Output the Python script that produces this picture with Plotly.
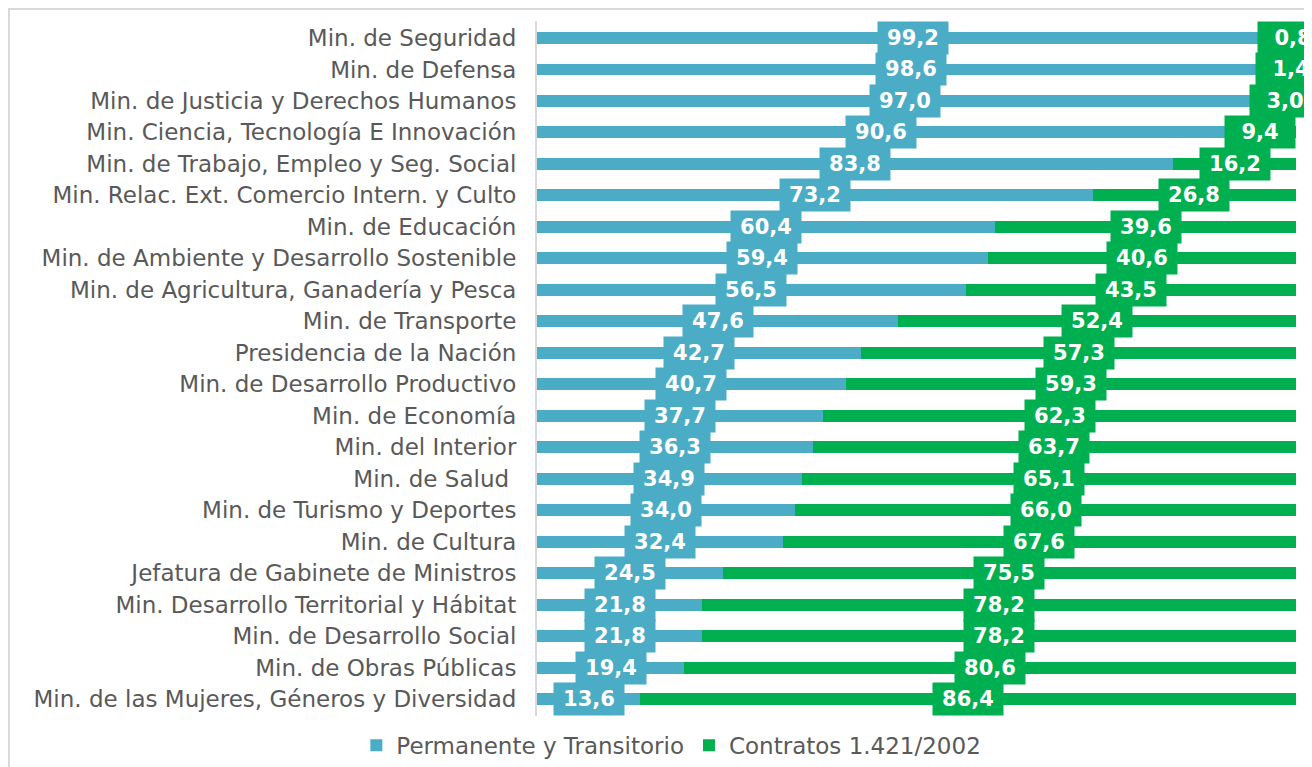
import plotly.graph_objects as go

categories = [
    "Min. de Seguridad",
    "Min. de Defensa",
    "Min. de Justicia y Derechos Humanos",
    "Min. Ciencia, Tecnología E Innovación",
    "Min. de Trabajo, Empleo y Seg. Social",
    "Min. Relac. Ext. Comercio Intern. y Culto",
    "Min. de Educación",
    "Min. de Ambiente y Desarrollo Sostenible",
    "Min. de Agricultura, Ganadería y Pesca",
    "Min. de Transporte",
    "Presidencia de la Nación",
    "Min. de Desarrollo Productivo",
    "Min. de Economía",
    "Min. del Interior",
    "Min. de Salud ",
    "Min. de Turismo y Deportes",
    "Min. de Cultura",
    "Jefatura de Gabinete de Ministros",
    "Min. Desarrollo Territorial y Hábitat",
    "Min. de Desarrollo Social",
    "Min. de Obras Públicas",
    "Min. de las Mujeres, Géneros y Diversidad",
]
permanente = [99.2, 98.6, 97.0, 90.6, 83.8, 73.2, 60.4, 59.4, 56.5, 47.6, 42.7,
              40.7, 37.7, 36.3, 34.9, 34.0, 32.4, 24.5, 21.8, 21.8, 19.4, 13.6]
contratos = [0.8, 1.4, 3.0, 9.4, 16.2, 26.8, 39.6, 40.6, 43.5, 52.4, 57.3,
             59.3, 62.3, 63.7, 65.1, 66.0, 67.6, 75.5, 78.2, 78.2, 80.6, 86.4]
series_names = ["Permanente y Transitorio", "Contratos 1.421/2002"]

BLUE = "#4BACC6"
GREEN = "#00B050"
FONT = "DejaVu Sans"


def fmt(v):
    return f"{v:.1f}".replace(".", ",")


fig = go.Figure()
fig.add_trace(go.Bar(y=categories, x=permanente, orientation="h", name=series_names[0],
                     marker=dict(color=BLUE, line=dict(width=0)), width=0.38))
fig.add_trace(go.Bar(y=categories, x=contratos, orientation="h", name=series_names[1],
                     marker=dict(color=GREEN, line=dict(width=0)), width=0.38))

lab_font = dict(family=FONT, size=21, color="white", weight="bold")
annotations = []
for cat, p, c in zip(categories, permanente, contratos):
    annotations.append(dict(x=p / 2, y=cat, xref="x", yref="y", text=fmt(p), showarrow=False,
                            bgcolor=BLUE, borderpad=2, width=66, height=28, font=lab_font))
    annotations.append(dict(x=p + c / 2, y=cat, xref="x", yref="y", text=fmt(c), showarrow=False,
                            bgcolor=GREEN, borderpad=2, width=66, height=28, font=lab_font))

fig.update_layout(
    width=1312, height=767,
    barmode="stack",
    bargap=0.62,
    plot_bgcolor="white", paper_bgcolor="white",
    margin=dict(l=529, r=24, t=13, b=59, autoexpand=False),
    font=dict(family=FONT, color="#595959", size=22),
    xaxis=dict(range=[0, 100], visible=False, fixedrange=True),
    yaxis=dict(autorange="reversed", showline=True, linecolor="#d9d9d9", linewidth=2,
               showgrid=False, ticks="", ticklabelstandoff=14,
               tickfont=dict(family=FONT, size=23, color="#595959")),
    legend=dict(orientation="h", x=0.177, xanchor="center", y=-0.042, yanchor="middle",
                traceorder="normal",
                font=dict(family=FONT, size=23, color="#595959"),
                itemwidth=30, tracegroupgap=0),
    annotations=annotations,
    shapes=[dict(type="rect", xref="paper", yref="paper", x0=-0.6957, x1=1.05, y0=-0.1, y1=1.0173,
                 line=dict(color="#d9d9d9", width=2), fillcolor="rgba(0,0,0,0)", layer="below")],
    showlegend=True,
)

fig.write_html("out.html")
